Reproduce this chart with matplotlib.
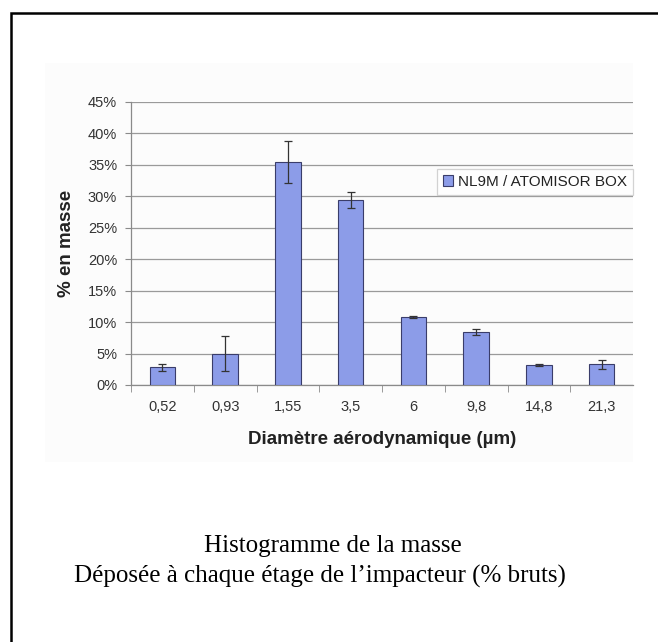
import numpy as np
import matplotlib.pyplot as plt
from matplotlib.patches import Rectangle
from matplotlib.ticker import FuncFormatter

# Diamètres aérodynamiques (µm) et % en masse
diametres = ['0,52', '0,93', '1,55', '3,5', '6', '9,8', '14,8', '21,3']
masse = [2.8, 5.0, 35.4, 29.4, 10.85, 8.4, 3.2, 3.3]
erreur = [0.55, 2.8, 3.3, 1.3, 0.15, 0.45, 0.15, 0.75]
serie = 'NL9M / ATOMISOR BOX'

W, H = 658, 642
fig = plt.figure(figsize=(W / 100, H / 100), dpi=100)
fig.patch.set_facecolor('white')

# cadre du document (coupé à droite et en bas)
fig.patches.append(Rectangle((11 / W, -0.1), 1.2, 1 - 13 / H + 0.1,
                             transform=fig.transFigure, fill=False,
                             edgecolor='black', linewidth=1.8, zorder=-5))
# fond très léger de l'image du graphique
fig.patches.append(Rectangle((45 / W, 1 - 462 / H), (633 - 45) / W, (462 - 63) / H,
                             transform=fig.transFigure, facecolor='#fcfcfc',
                             edgecolor='none', zorder=-10))

# zone de tracé en pixels
left, right, top, bottom = 131, 633, 101.7, 385
ax = fig.add_axes([left / W, 1 - bottom / H, (right - left) / W, (bottom - top) / H])
ax.set_facecolor('none')

x = np.arange(len(diametres))
ax.bar(x, masse, width=0.41, color='#8c9ce8', edgecolor='#3a3d6a', linewidth=0.8,
       label=serie, zorder=3)
ax.errorbar(x, masse, yerr=erreur, fmt='none', ecolor='#333333', elinewidth=0.9,
            capsize=3, capthick=0.9, zorder=4)

ax.set_xlim(-0.5, len(diametres) - 0.5)
ax.set_ylim(0, 45)
ax.set_yticks(np.arange(0, 46, 5))
ax.yaxis.set_major_formatter(FuncFormatter(lambda v, p: f'{v:.0f}%'))
ax.set_xticks(x)
ax.set_xticklabels(diametres)
ax.set_xticks(np.arange(-0.5, len(diametres) - 1, 1), minor=True)

ax.grid(axis='y', color='#9a9a9a', linewidth=0.9, zorder=0)
for s in ['top', 'right']:
    ax.spines[s].set_visible(False)
for s in ['left', 'bottom']:
    ax.spines[s].set_color('#8a8a8a')
    ax.spines[s].set_linewidth(0.9)

font = 'Liberation Sans'
ax.tick_params(axis='x', which='major', length=0, pad=11, labelsize=10.5,
               labelcolor='#333333')
ax.tick_params(axis='x', which='minor', length=5, color='#8a8a8a', direction='out')
ax.tick_params(axis='y', length=4, color='#8a8a8a', pad=6, labelsize=10.5,
               labelcolor='#333333')
for lab in ax.get_xticklabels() + ax.get_yticklabels():
    lab.set_fontfamily(font)

ax.set_xlabel('Diamètre aérodynamique (µm)', fontsize=13.5, fontweight='bold',
              family=font, color='#222222', labelpad=12)
ax.set_ylabel('% en masse', fontsize=13.5, fontweight='bold', family=font,
              color='#222222', labelpad=9)

leg = ax.legend(loc='upper right', bbox_to_anchor=(1.0, 1 - (169 - top) / (bottom - top)),
                borderaxespad=0, fancybox=False, edgecolor='#c8c8c8',
                prop={'family': font, 'size': 11}, handlelength=0.7,
                handleheight=0.7, handletextpad=0.3, borderpad=0.4,
                labelcolor='#222222')
leg.get_frame().set_linewidth(0.9)

fig.text(333 / W, 1 - 552 / H, 'Histogramme de la masse', ha='center',
         va='baseline', family='Liberation Serif', fontsize=18)
fig.text(320 / W, 1 - 583 / H, 'Déposée à chaque étage de l’impacteur (% bruts)',
         ha='center', va='baseline', family='Liberation Serif', fontsize=18)

fig.savefig('out.png', dpi=100)
